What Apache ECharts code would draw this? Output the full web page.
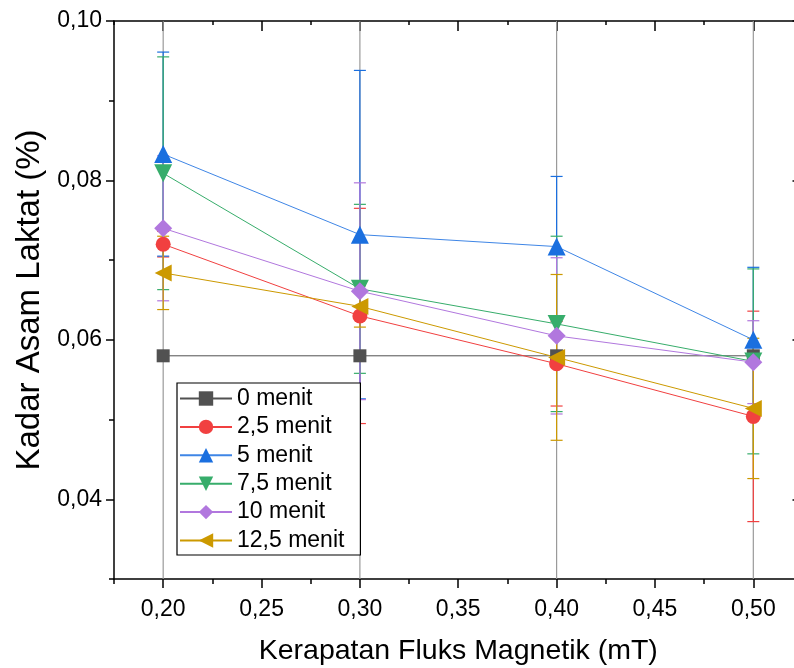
<!DOCTYPE html>
<html><head><meta charset="utf-8">
<script src="https://cdn.jsdelivr.net/npm/echarts@6/dist/echarts.min.js"></script>
<style>html,body{margin:0;padding:0;background:#fff}#c{width:794px;height:668px}</style>
</head><body><div id="c"></div>
<script>
// ---- data ----
const xValues = [0.20, 0.30, 0.40, 0.50];
const xTickLabels = [0.20, 0.25, 0.30, 0.35, 0.40, 0.45, 0.50];
const yTickLabels = [0.04, 0.06, 0.08, 0.10];
const seriesNames = ['0 menit', '2,5 menit', '5 menit', '7,5 menit', '10 menit', '12,5 menit'];
const val0   = [0.0580, 0.0580, 0.0580, 0.0580];
const val25  = [0.0720, 0.0630, 0.0570, 0.0504];
const val5   = [0.0833, 0.0732, 0.0717, 0.0600];
const val75  = [0.0809, 0.0664, 0.0620, 0.0573];
const val10  = [0.0740, 0.0661, 0.0605, 0.0572];
const val125 = [0.0684, 0.0642, 0.0578, 0.0514];
const err0   = [0.0500, 0.0500, 0.0500, 0.0500];
const err25  = [0.0016, 0.0135, 0.0053, 0.0132];
const err5   = [0.0128, 0.0206, 0.0088, 0.0091];
const err75  = [0.0146, 0.0106, 0.0110, 0.0116];
const err10  = [0.0091, 0.0136, 0.0098, 0.0052];
const err125 = [0.0046, 0.0026, 0.0104, 0.0088];

// ---- styles ----
const FONT = "'Liberation Sans', Arial, sans-serif";
const colors = ['#515151', '#F14040', '#1A6FDF', '#37AD6B', '#B177DE', '#CC9900'];
const lineColors = ['#515151', '#F14040', '#3F86E6', '#37AD6B', '#B177DE', '#CC9900'];
const errColors = ['#9a9a9a', '#F14040', '#1A6FDF', '#37AD6B', '#B177DE', '#CC9900'];
const symbols = ['rect', 'circle', 'triangle', 'triangle', 'diamond', 'triangle'];
const rotates = [0, 0, 0, 180, 0, 90];
const sizes = [13, 15, 18, 18, 18, 17];
const allVals = [val0, val25, val5, val75, val10, val125];
const allErrs = [err0, err25, err5, err75, err10, err125];

const fmt = v => Number(v).toFixed(2).replace('.', ',');

function errRender(color, caps) {
  return function (params, api) {
    const x = api.value(0), lo = api.value(1), hi = api.value(2);
    const a = api.coord([x, lo]), b = api.coord([x, hi]);
    const w = 6;
    const st = { stroke: color, lineWidth: 1.2 };
    const ch = [{ type: 'line', shape: { x1: a[0], y1: a[1], x2: b[0], y2: b[1] }, style: st }];
    if (caps) {
      ch.push({ type: 'line', shape: { x1: a[0] - w, y1: a[1], x2: a[0] + w, y2: a[1] }, style: st });
      ch.push({ type: 'line', shape: { x1: b[0] - w, y1: b[1], x2: b[0] + w, y2: b[1] }, style: st });
    }
    return { type: 'group', children: ch };
  };
}

const series = [];
allVals.forEach((vals, i) => {
  series.push({
    type: 'custom', name: seriesNames[i] + ' error', clip: true, z: 1,
    renderItem: errRender(errColors[i], i !== 0),
    encode: { x: 0, y: [1, 2] },
    data: xValues.map((x, k) => [x, vals[k] - allErrs[i][k], vals[k] + allErrs[i][k]])
  });
});
allVals.forEach((vals, i) => {
  series.push({
    type: 'line', name: seriesNames[i], z: 3,
    data: xValues.map((x, k) => [x, vals[k]]),
    symbol: symbols[i], symbolSize: sizes[i], symbolRotate: rotates[i],
    showAllSymbol: true,
    itemStyle: { color: colors[i] },
    lineStyle: { color: lineColors[i], width: 1 },
    emphasis: { disabled: true }, animation: false
  });
});

const axisLineStyle = { color: '#000', width: 1.5 };
const option = {
  animation: false,
  backgroundColor: '#fff',
  grid: { left: 114, top: 21, right: -8.5, bottom: 89, outerBoundsMode: 'none', containLabel: false },
  legend: {
    data: seriesNames, orient: 'vertical', left: 177, top: 383,
    itemWidth: 52, itemHeight: 18, itemGap: 5.4,
    padding: [4, 16, 3, 2],
    borderColor: '#000', borderWidth: 1.2, backgroundColor: '#fff',
    textStyle: { fontSize: 23, fontFamily: FONT, color: '#000' }
  },
  xAxis: [
    {
      type: 'value', position: 'bottom', min: 0.175, max: 0.525,
      axisLine: { show: true, lineStyle: axisLineStyle },
      axisTick: { show: true, customValues: xTickLabels, length: 9, inside: false, lineStyle: { color: '#000', width: 1.5 } },
      axisLabel: { customValues: xTickLabels, formatter: fmt, fontSize: 23, fontFamily: FONT, color: '#000', margin: 19 },
      splitLine: { show: false },
      name: 'Kerapatan Fluks Magnetik (mT)', nameLocation: 'middle', nameGap: 58,
      nameTextStyle: { fontSize: 28.5, fontFamily: FONT, color: '#000' }
    },
    {
      type: 'value', position: 'bottom', min: 0.175, max: 0.525, interval: 0.025,
      axisLine: { show: false }, axisLabel: { show: false }, splitLine: { show: false },
      axisTick: { show: true, length: 5, inside: false, lineStyle: { color: '#000', width: 1.5 } }
    },
    {
      type: 'value', position: 'top', min: 0.175, max: 0.525,
      axisLine: { show: true, lineStyle: axisLineStyle },
      axisTick: { show: true, customValues: xTickLabels, length: 10, inside: true, lineStyle: { color: '#000', width: 1.5 } },
      axisLabel: { show: false }, splitLine: { show: false }
    },
    {
      type: 'value', position: 'top', min: 0.175, max: 0.525, interval: 0.025,
      axisLine: { show: false }, axisLabel: { show: false }, splitLine: { show: false },
      axisTick: { show: true, length: 4, inside: true, lineStyle: { color: '#000', width: 1.5 } }
    }
  ],
  yAxis: [
    {
      type: 'value', position: 'left', min: 0.03, max: 0.10,
      axisLine: { show: true, lineStyle: axisLineStyle },
      axisTick: { show: true, customValues: yTickLabels, length: 8, inside: false, lineStyle: { color: '#000', width: 1.5 } },
      axisLabel: { customValues: yTickLabels, formatter: fmt, fontSize: 23, fontFamily: FONT, color: '#000', margin: 12 },
      splitLine: { show: false },
      name: 'Kadar Asam Laktat (%)', nameLocation: 'middle', nameGap: 60,
      nameTextStyle: { fontSize: 33, fontFamily: FONT, color: '#000' }
    },
    {
      type: 'value', position: 'left', min: 0.03, max: 0.10, interval: 0.01,
      axisLine: { show: false }, axisLabel: { show: false }, splitLine: { show: false },
      axisTick: { show: true, length: 5, inside: false, lineStyle: { color: '#000', width: 1.5 } }
    },
    {
      type: 'value', position: 'right', min: 0.03, max: 0.10,
      axisLine: { show: true, lineStyle: axisLineStyle },
      axisTick: { show: true, customValues: yTickLabels, length: 10, inside: true, lineStyle: { color: '#000', width: 1.5 } },
      axisLabel: { show: false }, splitLine: { show: false }
    }
  ],
  series: series
};

const chart = echarts.init(document.getElementById('c'), null, { renderer: 'canvas' });
chart.setOption(option);
</script>
</body></html>
